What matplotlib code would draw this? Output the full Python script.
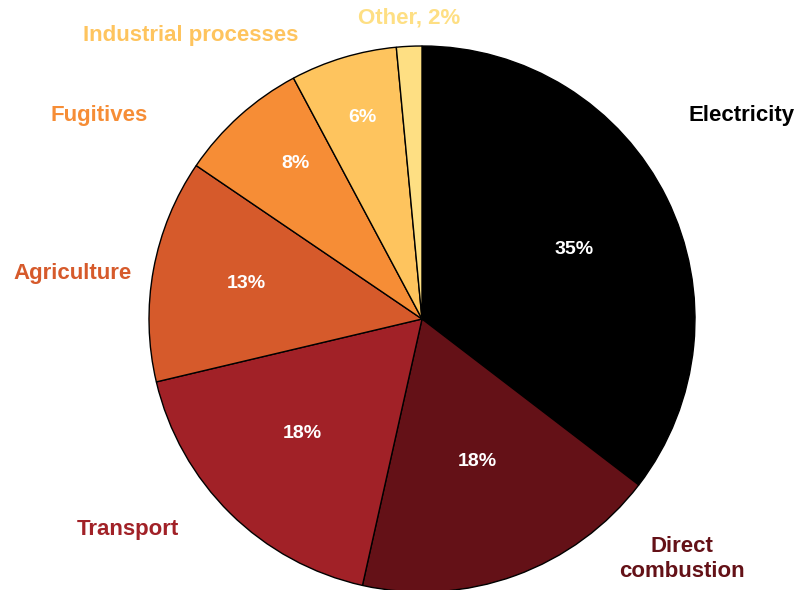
import matplotlib

matplotlib.use("Agg")
import matplotlib.pyplot as plt

# slice data, clockwise from 12 o'clock (shares)
sectors = ["Electricity", "Direct\ncombustion", "Transport", "Agriculture",
           "Fugitives", "Industrial processes", "Other"]
shares = [35.4, 18.1, 17.8, 13.2, 7.7, 6.3, 1.5]
colors = ["#000000", "#641117", "#A12127", "#D65A2B", "#F68D36", "#FEC45E", "#FEDF83"]

# layout (pixel coords from top-left of the 796x590 canvas)
CENTER = (422, 319)
RADIUS = 273
label_pos = [(742, 115), (682, 559), (128, 529), (73, 273), (99, 115), (191, 36), (409, 18)]
pct_pos = [(574, 249), (477, 462), (302, 433), (246, 283), (295, 164), (362, 117), None]

W, H = 796, 590
fig = plt.figure(figsize=(W / 100, H / 100), dpi=100)
ax = fig.add_axes([0, 0, 1, 1])

ax.pie(shares, colors=colors, startangle=90, counterclock=False,
       center=(CENTER[0], H - CENTER[1]), radius=RADIUS, frame=True,
       wedgeprops=dict(edgecolor="black", linewidth=1.0))
ax.set_xlim(0, W)
ax.set_ylim(0, H)
ax.set_aspect("equal")
ax.axis("off")

font = dict(family="Liberation Sans", weight="bold")
for name, val, col, lp, pp in zip(sectors, shares, colors, label_pos, pct_pos):
    text = name if name != "Other" else f"{name}, {val:.0f}%"
    ax.text(lp[0], H - lp[1], text, color=col, fontsize=16, ha="center", va="center",
            linespacing=1.25, **font)
    if pp is not None:
        ax.text(pp[0], H - pp[1], f"{val:.0f}%", color="white", fontsize=14,
                ha="center", va="center", **font)

fig.savefig("out.png", dpi=100)
